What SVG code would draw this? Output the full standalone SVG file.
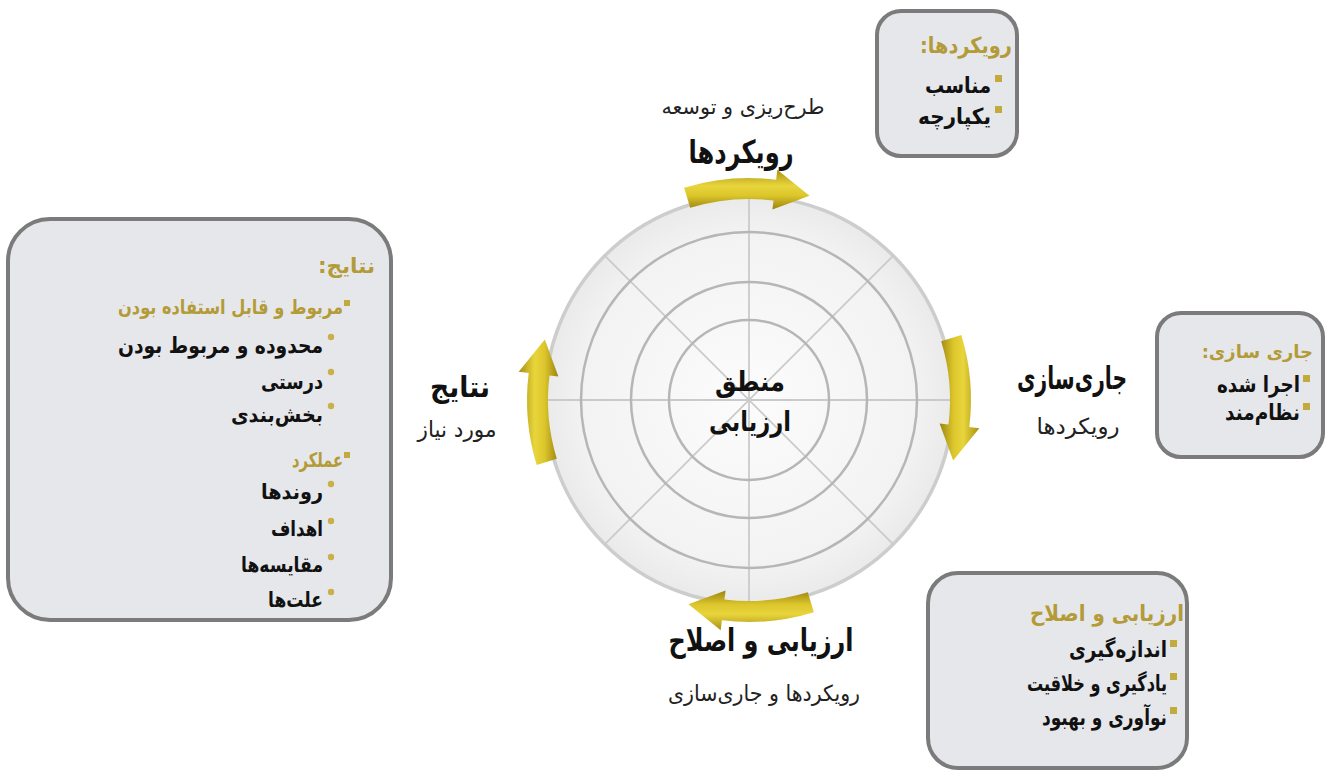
<svg xmlns="http://www.w3.org/2000/svg" width="1328" height="771" viewBox="0 0 1328 771">
<defs>
<radialGradient id="disc" cx="0.5" cy="0.5" r="0.5">
<stop offset="0" stop-color="#fcfcfc"/>
<stop offset="0.8" stop-color="#f3f3f3"/>
<stop offset="1" stop-color="#eaeaea"/>
</radialGradient>
<linearGradient id="gold" x1="0" y1="0" x2="0" y2="1">
<stop offset="0" stop-color="#a89012"/>
<stop offset="0.4" stop-color="#e8d53c"/>
<stop offset="0.65" stop-color="#dcc62c"/>
<stop offset="1" stop-color="#9c840e"/>
</linearGradient>
<path id="arr" d="M -64.9 -212.3 A 222 222 0 0 1 27.1 -220.3 L 28.3 -230.3 L 60.5 -204.2 L 23.4 -190.6 L 24.5 -199.5 A 201 201 0 0 0 -58.8 -192.2 Z"/>
</defs>
<style>
text{font-family:"DejaVu Sans",sans-serif;direction:rtl}
.box{fill:#e6e7eb;stroke:#7b7b7b;stroke-width:4}
.t{font-weight:bold;fill:#b39b38}
.i{font-weight:bold;fill:#111}
.lb{font-weight:bold;fill:#111}
.ln{fill:#222}
.sq{fill:#c2aa3c}
.dot{fill:#c9b048}
.ring{fill:none;stroke:#b6b6b6;stroke-width:2.5}
.spoke{stroke:#cacaca;stroke-width:1.8}
.arrow{fill:url(#gold)}
</style>

<g id="wheel">
<circle cx="749" cy="400" r="204" fill="url(#disc)" stroke="#cdcdcd" stroke-width="3.5"/>
<g class="spokes">
<line class="spoke" x1="749" y1="196" x2="749" y2="604"/>
<line class="spoke" x1="545" y1="400" x2="953" y2="400"/>
<line class="spoke" x1="604.7" y1="255.7" x2="893.3" y2="544.3"/>
<line class="spoke" x1="893.3" y1="255.7" x2="604.7" y2="544.3"/>
</g>
<circle class="ring" cx="749" cy="400" r="168"/>
<circle class="ring" cx="749" cy="400" r="118"/>
<circle class="ring" cx="749" cy="400" r="80"/>
<text class="lb" x="750" y="391" font-size="28" text-anchor="middle" textLength="70" lengthAdjust="spacingAndGlyphs">منطق</text>
<text class="lb" x="750" y="431" font-size="28" text-anchor="middle" textLength="82" lengthAdjust="spacingAndGlyphs">ارزیابی</text>
</g>

<g id="connectors">
<use href="#arr" class="arrow" transform="translate(749,400)"/>
<use href="#arr" class="arrow" transform="translate(749,400) rotate(90)"/>
<use href="#arr" class="arrow" transform="translate(749,400) rotate(180)"/>
<use href="#arr" class="arrow" transform="translate(749,400) rotate(270)"/>
</g>

<g id="label-top">
<text class="ln" x="743" y="114" font-size="21" text-anchor="middle" textLength="163" lengthAdjust="spacingAndGlyphs">طرح&#8204;ریزی و توسعه</text>
<text class="lb" x="741" y="163" font-size="32" text-anchor="middle" textLength="105" lengthAdjust="spacingAndGlyphs">رویکردها</text>
</g>
<g id="label-right">
<text class="lb" x="1072" y="389" font-size="31" text-anchor="middle" textLength="110" lengthAdjust="spacingAndGlyphs">جاری&#8204;سازی</text>
<text class="ln" x="1078" y="434" font-size="22" text-anchor="middle" textLength="83" lengthAdjust="spacingAndGlyphs">رویکردها</text>
</g>
<g id="label-bottom">
<text class="lb" x="761" y="651" font-size="31" text-anchor="middle" textLength="185" lengthAdjust="spacingAndGlyphs">ارزیابی و اصلاح</text>
<text class="ln" x="764" y="701" font-size="22" text-anchor="middle" textLength="192" lengthAdjust="spacingAndGlyphs">رویکردها و جاری&#8204;سازی</text>
</g>
<g id="label-left">
<text class="lb" x="460" y="397" font-size="29" text-anchor="middle" textLength="60" lengthAdjust="spacingAndGlyphs">نتایج</text>
<text class="ln" x="457" y="437" font-size="22" text-anchor="middle" textLength="79" lengthAdjust="spacingAndGlyphs">مورد نیاز</text>
</g>

<g id="box-approach">
<rect class="box" x="877" y="11" width="140" height="145" rx="24"/>
<text class="t" x="1012" y="53" font-size="22" textLength="92" lengthAdjust="spacingAndGlyphs">رویکردها:</text>
<rect class="sq" x="995" y="75" width="7" height="7"/>
<text class="i" x="991" y="93" font-size="22" textLength="66" lengthAdjust="spacingAndGlyphs">مناسب</text>
<rect class="sq" x="995" y="106" width="7" height="7"/>
<text class="i" x="991" y="124" font-size="22" textLength="73" lengthAdjust="spacingAndGlyphs">یکپارچه</text>
</g>

<g id="box-deploy">
<rect class="box" x="1157" y="313" width="166" height="144" rx="24"/>
<text class="t" x="1313" y="358" font-size="18">جاری سازی:</text>
<rect class="sq" x="1303" y="375" width="7" height="7"/>
<text class="i" x="1300" y="392" font-size="22" textLength="83" lengthAdjust="spacingAndGlyphs">اجرا شده</text>
<rect class="sq" x="1303" y="403" width="7" height="7"/>
<text class="i" x="1300" y="420" font-size="22" textLength="75" lengthAdjust="spacingAndGlyphs">نظام&#8204;مند</text>
</g>

<g id="box-assess">
<rect class="box" x="928" y="573" width="259" height="195" rx="30"/>
<text class="t" x="1184" y="621" font-size="22" textLength="154" lengthAdjust="spacingAndGlyphs">ارزیابی و اصلاح</text>
<rect class="sq" x="1170" y="640" width="7" height="7"/>
<text class="i" x="1167" y="657" font-size="22" textLength="98" lengthAdjust="spacingAndGlyphs">اندازه&#8204;گیری</text>
<rect class="sq" x="1170" y="673" width="7" height="7"/>
<text class="i" x="1167" y="691" font-size="22" textLength="140" lengthAdjust="spacingAndGlyphs">یادگیری و خلاقیت</text>
<rect class="sq" x="1170" y="707" width="7" height="7"/>
<text class="i" x="1167" y="725" font-size="22" textLength="125" lengthAdjust="spacingAndGlyphs">نوآوری و بهبود</text>
</g>

<g id="box-results">
<rect class="box" x="8" y="219" width="383" height="401" rx="42"/>
<text class="t" x="375" y="273" font-size="21" textLength="57" lengthAdjust="spacingAndGlyphs">نتایج:</text>
<rect class="sq" x="344" y="300" width="6" height="6"/>
<text class="t" x="343" y="314" font-size="20" textLength="225" lengthAdjust="spacingAndGlyphs">مربوط و قابل استفاده بودن</text>
<circle class="dot" cx="331" cy="337" r="3.2"/>
<text class="i" x="323" y="353" font-size="22" textLength="205" lengthAdjust="spacingAndGlyphs">محدوده و مربوط بودن</text>
<circle class="dot" cx="331" cy="372" r="3.2"/>
<text class="i" x="323" y="389" font-size="21" textLength="62" lengthAdjust="spacingAndGlyphs">درستی</text>
<circle class="dot" cx="331" cy="406" r="3.2"/>
<text class="i" x="323" y="422" font-size="21" textLength="92" lengthAdjust="spacingAndGlyphs">بخش&#8204;بندی</text>
<rect class="sq" x="344" y="452" width="6" height="6"/>
<text class="t" x="343" y="467" font-size="20" textLength="51" lengthAdjust="spacingAndGlyphs">عملکرد</text>
<circle class="dot" cx="331" cy="484" r="3.2"/>
<text class="i" x="323" y="499" font-size="21" textLength="62" lengthAdjust="spacingAndGlyphs">روندها</text>
<circle class="dot" cx="331" cy="521" r="3.2"/>
<text class="i" x="323" y="536" font-size="21" textLength="52" lengthAdjust="spacingAndGlyphs">اهداف</text>
<circle class="dot" cx="331" cy="557" r="3.2"/>
<text class="i" x="323" y="572" font-size="21" textLength="82" lengthAdjust="spacingAndGlyphs">مقایسه&#8204;ها</text>
<circle class="dot" cx="331" cy="592" r="3.2"/>
<text class="i" x="323" y="607" font-size="21" textLength="55" lengthAdjust="spacingAndGlyphs">علت&#8204;ها</text>
</g>
</svg>
